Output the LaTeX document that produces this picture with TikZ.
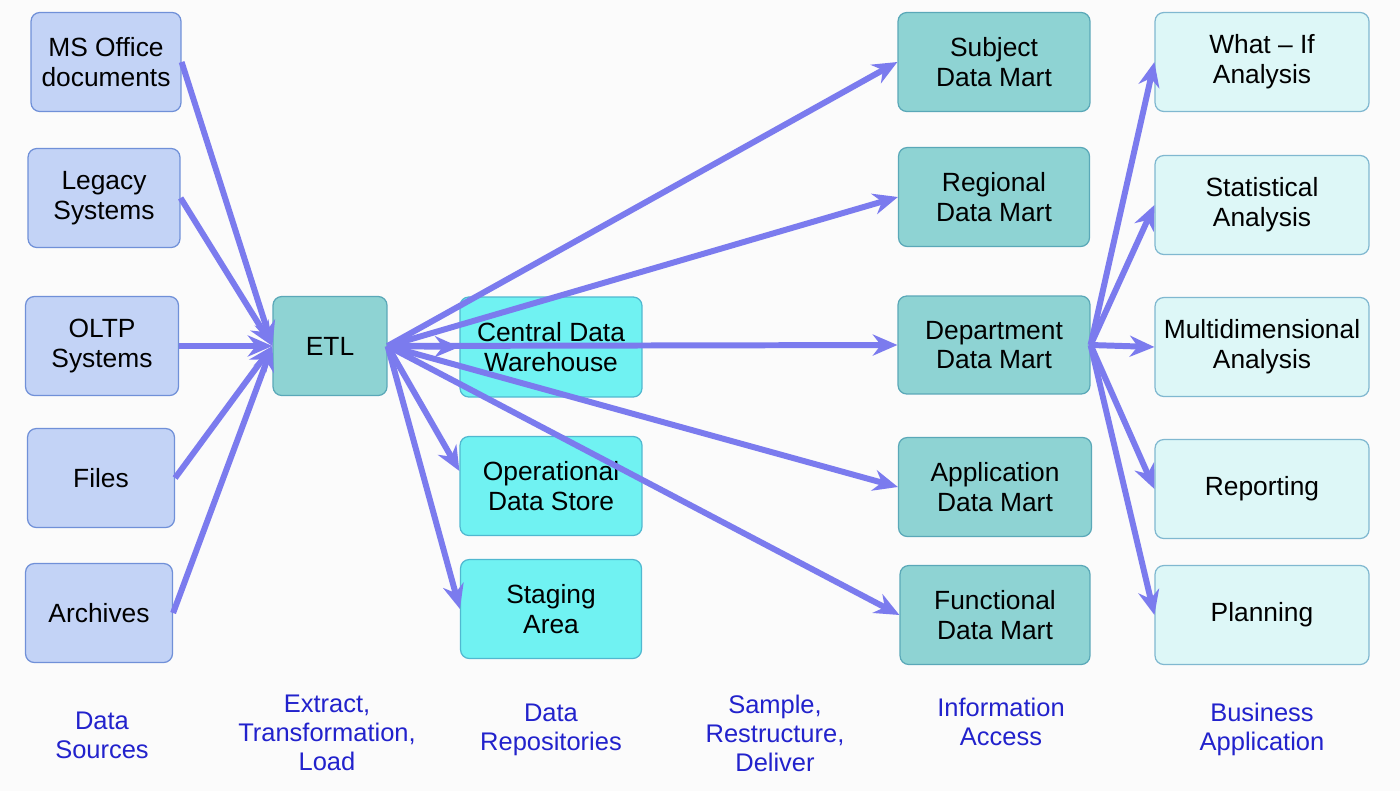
\documentclass[tikz,border=0pt]{standalone}
\usepackage{fontspec}
\setmainfont{Liberation Sans}
\usetikzlibrary{arrows.meta}
\definecolor{arr}{HTML}{7B7BEE}
\definecolor{src}{HTML}{C3D3F6}
\definecolor{srcb}{HTML}{7090D8}
\definecolor{etl}{HTML}{8ED3D3}
\definecolor{etlb}{HTML}{5AA8B8}
\definecolor{rep}{HTML}{70F2F2}
\definecolor{repb}{HTML}{50B8D0}
\definecolor{biz}{HTML}{DDF7F7}
\definecolor{bizb}{HTML}{80B8D0}
\definecolor{lab}{HTML}{2222CC}
\begin{document}
\begin{tikzpicture}[x=0.02cm,y=-0.02cm,
 box/.style={draw,rounded corners=5pt,line width=0.7pt,align=center,font=\fontsize{15pt}{17pt}\selectfont,inner sep=0pt},
 s/.style={box,fill=src,draw=srcb},
 e/.style={box,fill=etl,draw=etlb},
 r/.style={box,fill=rep,draw=repb},
 b/.style={box,fill=biz,draw=bizb},
 lbl/.style={align=center,text=lab,font=\fontsize{14.5pt}{16.5pt}\selectfont},
 a/.style={draw=arr,line width=3.4pt,-{Stealth[length=14pt,width=12pt]}}]
\fill[white!97!gray] (0,0) rectangle (1400,791);
\useasboundingbox (0,0) rectangle (1400,791);
\node[s,minimum width=3cm,minimum height=1.98cm] (ms) at (106,62) {MS Office\\documents};
\node[s,minimum width=3.04cm,minimum height=1.98cm] (leg) at (104,198) {Legacy\\Systems};
\node[s,minimum width=3.06cm,minimum height=1.98cm] (oltp) at (102,346) {OLTP\\Systems};
\node[s,minimum width=2.94cm,minimum height=1.98cm] (files) at (101,478) {Files};
\node[s,minimum width=2.94cm,minimum height=1.98cm] (arch) at (99,613) {Archives};
\node[e,minimum width=2.28cm,minimum height=1.98cm] (etlN) at (330,346) {ETL};
\node[r,minimum width=3.64cm,minimum height=2cm] (cdw) at (551,347) {Central Data\\Warehouse};
\node[r,minimum width=3.64cm,minimum height=1.98cm] (ods) at (551,486) {Operational\\Data Store};
\node[r,minimum width=3.62cm,minimum height=1.98cm] (stg) at (551,609) {Staging\\Area};
\node[e,minimum width=3.84cm,minimum height=1.98cm] (sub) at (994,62) {Subject\\Data Mart};
\node[e,minimum width=3.82cm,minimum height=1.98cm] (reg) at (994,197) {Regional\\Data Mart};
\node[e,minimum width=3.84cm,minimum height=1.96cm] (dep) at (994,345) {Department\\Data Mart};
\node[e,minimum width=3.86cm,minimum height=1.98cm] (app) at (995,487) {Application\\Data Mart};
\node[e,minimum width=3.8cm,minimum height=1.98cm] (fun) at (995,615) {Functional\\Data Mart};
\node[b,minimum width=4.28cm,minimum height=1.98cm] (wi) at (1262,62) {What -- If\\Analysis};
\node[b,minimum width=4.28cm,minimum height=1.98cm] (st) at (1262,205) {Statistical\\Analysis};
\node[b,minimum width=4.28cm,minimum height=1.98cm] (md) at (1262,347) {Multidimensional\\Analysis};
\node[b,minimum width=4.28cm,minimum height=1.98cm] (rp) at (1262,489) {Reporting};
\node[b,minimum width=4.28cm,minimum height=1.98cm] (pl) at (1262,615) {Planning};
\draw[a] (ms.east) -- (etlN.west);
\draw[a] (leg.east) -- (etlN.west);
\draw[a] (oltp.east) -- (etlN.west);
\draw[a] (files.east) -- (etlN.west);
\draw[a] (arch.east) -- (etlN.west);
\coordinate (eo) at (etlN.east);
\draw[a] (eo) -- (sub.west);
\draw[a] (eo) -- (reg.west);
\draw[a] (eo) -- (cdw.west);
\draw[a] (eo) -- (dep.west);
\draw[a] (eo) -- (app.west);
\draw[a] (eo) -- (fun.west);
\draw[a] (eo) -- ([yshift=0.3cm]ods.west);
\draw[a] (eo) -- (stg.west);
\coordinate (do) at (dep.east);
\draw[a] (do) -- (wi.west);
\draw[a] (do) -- (st.west);
\draw[a] (do) -- (md.west);
\draw[a] (do) -- (rp.west);
\draw[a] (do) -- (pl.west);
\node[lbl] (l1) at (102,735) {Data\\Sources};
\node[lbl] (l2) at (327,733) {Extract,\\Transformation,\\Load};
\node[lbl] (l3) at (551,730) {Data\\Repositories};
\node[lbl] (l4) at (775,733) {Sample,\\Restructure,\\Deliver};
\node[lbl] (l5) at (1001,722) {Information\\Access};
\node[lbl] (l6) at (1262,729) {Business\\Application};
\end{tikzpicture}
\end{document}
